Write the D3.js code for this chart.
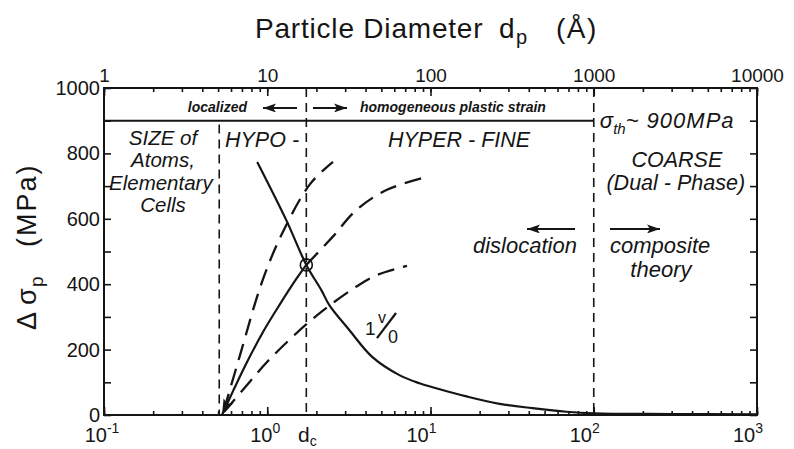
<!DOCTYPE html>
<html>
<head>
<meta charset="utf-8">
<script src="https://cdn.jsdelivr.net/npm/d3@7"></script>
<style>
body { margin: 0; background: #fff; }
text { font-family: "Liberation Sans", Arial, Helvetica, sans-serif; fill: #151515; }
.ann { font-style: italic; }
</style>
</head>
<body>
<div id="chart"></div>
<script>
// bottom axis: particle diameter in nm, top axis: same in Angstrom
var xTicks = [0.1, 1, 10, 100, 1000];
var xExps = ["-1", "0", "1", "2", "3"];
var topTicks = [1, 10, 100, 1000, 10000];
var yTicks = [0, 200, 400, 600, 800, 1000];

// critical diameter d_c and the region borders (nm)
var dCrit = 1.735;
var sCrit = 459;
var dAtoms = 0.508;
var dCoarse = 100;
var sigmaTh = 900;

// dislocation (Orowan type) curve, falling with size
var dFall = [0.868, 1.308, 1.735, 2.145, 2.40, 3.18, 4.41, 6.45, 8.57, 10.3, 16.6, 26.5, 42.2, 68, 100, 300, 1000];
var sFall = [774, 596, 459, 382, 336, 260, 177, 122, 97, 85, 57, 34, 21, 10, 5, 3, 2];

// rising curve (solid, ends with arrow at the atomic size)
var dRise = [0.528, 0.617, 0.752, 0.942, 1.197, 1.521, 1.735];
var sRise = [0, 73, 162, 254, 339, 419, 459];

// dashed curves
var dSteep = [0.543, 0.681, 0.929, 1.231, 1.828, 2.528];
var sSteep = [15, 183, 407, 554, 706, 774];
var dMid = [1.735, 2.505, 3.52, 5.37, 9.44];
var sMid = [459, 544, 627, 688, 728];
var dLow = [0.543, 0.752, 0.997, 1.379, 1.828, 2.424, 3.546, 4.702, 7.178];
var sLow = [9, 92, 162, 232, 287, 336, 394, 428, 456];

//---------------------------------------------------------------------------//

var svgWidth = 794;
var svgHeight = 449;
var margin = { top: 88, right: 37, bottom: 34, left: 104 };
var width = svgWidth - margin.left - margin.right;
var height = svgHeight - margin.top - margin.bottom;

var svg = d3.select("#chart")
    .append("svg")
    .attr("width", svgWidth)
    .attr("height", svgHeight);

var defs = svg.append("defs");
defs.append("marker")
    .attr("id", "head")
    .attr("markerUnits", "userSpaceOnUse")
    .attr("markerWidth", 14)
    .attr("markerHeight", 9)
    .attr("refX", 13)
    .attr("refY", 4.5)
    .attr("orient", "auto-start-reverse")
    .append("path")
    .attr("d", "M0,0 L13,4.5 L0,9 L3,4.5 Z")
    .attr("fill", "#151515");
defs.append("marker")
    .attr("id", "bighead")
    .attr("markerUnits", "userSpaceOnUse")
    .attr("markerWidth", 17)
    .attr("markerHeight", 11)
    .attr("refX", 16)
    .attr("refY", 5.5)
    .attr("orient", "auto-start-reverse")
    .append("path")
    .attr("d", "M0,0 L16,5.5 L0,11 L4,5.5 Z")
    .attr("fill", "#151515");

var chart = svg.append("g")
    .attr("transform", `translate(${margin.left}, ${margin.top})`);

var x = d3.scaleLog().domain([0.1, 1000]).range([0, width]);
var xTop = d3.scaleLog().domain([1, 10000]).range([0, width]);
var y = d3.scaleLinear().domain([0, 1000]).range([height, 0]);

// axes: all ticks point inward
chart.append("g")
    .attr("transform", `translate(0, ${height})`)
    .call(d3.axisBottom(x).tickValues(x.ticks()).tickSize(-4).tickFormat(""));
chart.append("g")
    .attr("transform", `translate(0, ${height})`)
    .call(d3.axisBottom(x).tickValues(xTicks).tickSize(-8).tickFormat(""));

chart.append("g")
    .call(d3.axisTop(xTop).tickValues(xTop.ticks()).tickSize(-4).tickFormat(""));
chart.append("g")
    .attr("class", "topAxis")
    .call(d3.axisTop(xTop).tickValues(topTicks).tickSize(-8).tickPadding(6).tickFormat(d3.format("d")));

var yMinor = d3.range(0, 1001, 100);
chart.append("g")
    .attr("class", "leftAxis")
    .call(d3.axisLeft(y).tickValues(yMinor).tickSize(-7).tickPadding(4)
        .tickFormat(d => yTicks.indexOf(d) >= 0 ? d : ""));
chart.append("g")
    .attr("transform", `translate(${width}, 0)`)
    .call(d3.axisRight(y).tickValues(yMinor).tickSize(-7).tickFormat(""));

chart.selectAll(".domain").remove();
chart.selectAll(".tick line").attr("stroke", "#151515").attr("stroke-width", 1.6);
chart.selectAll(".topAxis text").attr("font-size", 19).attr("fill", "#151515");
chart.selectAll(".leftAxis text").attr("font-size", 20).attr("fill", "#151515");

// bottom labels 10^n
var xLab = chart.append("g").selectAll("text")
    .data(xTicks)
    .enter()
    .append("text")
    .attr("x", (d, i) => x(d) - (i < 2 ? 2 : 9))
    .attr("y", height + 27)
    .attr("text-anchor", "middle")
    .attr("font-size", 20);
xLab.append("tspan").text("10");
xLab.append("tspan")
    .attr("dy", -9)
    .attr("font-size", 14)
    .text((d, i) => xExps[i]);

var dcLab = chart.append("text")
    .attr("x", x(dCrit) + 1)
    .attr("y", height + 27)
    .attr("text-anchor", "middle")
    .attr("font-size", 21);
dcLab.append("tspan").text("d");
dcLab.append("tspan").attr("dy", 4).attr("font-size", 14).text("c");

// frame and the 900 MPa line
chart.append("rect")
    .attr("width", width)
    .attr("height", height)
    .attr("fill", "none")
    .attr("stroke", "#151515")
    .attr("stroke-width", 2);

chart.append("line")
    .attr("x1", 0)
    .attr("x2", x(dCoarse))
    .attr("y1", y(sigmaTh))
    .attr("y2", y(sigmaTh))
    .attr("stroke", "#151515")
    .attr("stroke-width", 2);

// vertical dashed borders
var borders = [
    { d: dAtoms, top: 888 },
    { d: dCrit, top: 1000 },
    { d: dCoarse, top: 1000 }
];
chart.selectAll(".border")
    .data(borders)
    .enter()
    .append("line")
    .attr("class", "border")
    .attr("x1", b => x(b.d))
    .attr("x2", b => x(b.d))
    .attr("y1", b => y(b.top))
    .attr("y2", y(0))
    .attr("stroke", "#151515")
    .attr("stroke-width", 1.6)
    .attr("stroke-dasharray", "9,6");

// curves
var line = d3.line()
    .x(p => x(p[0]))
    .y(p => y(p[1]))
    .curve(d3.curveCatmullRom.alpha(0.5));

function pairs(ds, ss) {
    return ds.map((d, i) => [d, ss[i]]);
}

chart.append("path")
    .attr("d", line(pairs(dFall, sFall)))
    .attr("fill", "none")
    .attr("stroke", "#151515")
    .attr("stroke-width", 2.2);

chart.append("path")
    .attr("d", line(pairs(dRise, sRise)))
    .attr("fill", "none")
    .attr("stroke", "#151515")
    .attr("stroke-width", 2.2)
    .attr("marker-start", "url(#bighead)");

[[dSteep, sSteep], [dMid, sMid], [dLow, sLow]].forEach(function(c) {
    chart.append("path")
        .attr("d", line(pairs(c[0], c[1])))
        .attr("fill", "none")
        .attr("stroke", "#151515")
        .attr("stroke-width", 2.3)
        .attr("stroke-dasharray", "17,9");
});

chart.append("circle")
    .attr("cx", x(dCrit))
    .attr("cy", y(sCrit))
    .attr("r", 6)
    .attr("fill", "none")
    .attr("stroke", "#151515")
    .attr("stroke-width", 1.6);

// annotations (placed in data coordinates)
function note(dv, sv, txt, size, anchor) {
    return chart.append("text")
        .attr("class", "ann")
        .attr("x", x(dv))
        .attr("y", y(sv))
        .attr("font-size", size)
        .attr("text-anchor", anchor || "start")
        .text(txt);
}
function arrow(d1, d2, sv) {
    chart.append("line")
        .attr("x1", x(d1)).attr("x2", x(d2))
        .attr("y1", y(sv)).attr("y2", y(sv))
        .attr("stroke", "#151515")
        .attr("stroke-width", 2)
        .attr("marker-end", "url(#head)");
}

note(0.7516, 928, "localized", 14, "end").attr("font-weight", "bold");
arrow(1.521, 0.942, 939);
arrow(1.906, 3.08, 939);
note(3.70, 928, "homogeneous plastic strain", 14).attr("font-weight", "bold");

note(0.2298, 826, "SIZE of", 20.5, "middle");
note(0.2298, 758, "Atoms,", 20.5, "middle");
note(0.2230, 688, "Elementary", 20.5, "middle");
note(0.2298, 621, "Cells", 20.5, "middle");

note(0.551, 820, "HYPO -", 21.5);
note(5.49, 820, "HYPER - FINE", 21.5);

var th = note(109, 878, "", 22);
th.append("tspan").text("σ");
th.append("tspan").attr("dy", 6).attr("font-size", 15).text("th");
th.append("tspan").attr("dy", -6).attr("letter-spacing", 1).text("~ 900MPa");

note(323, 758, "COARSE", 21.5, "middle");
note(318, 688, "(Dual - Phase)", 21.5, "middle");

arrow(76.8, 39.0, 569);
arrow(125.8, 254.6, 569);
note(78.9, 495, "dislocation", 22, "end");
note(125.8, 495, "composite", 22);
note(258, 422, "theory", 22, "middle");

// 1 v/o label on the falling curve
chart.append("text").attr("x", x(3.97)).attr("y", y(245)).attr("font-size", 19).text("1");
chart.append("text").attr("x", x(4.77)).attr("y", y(281)).attr("font-size", 16).text("v");
chart.append("text").attr("x", x(5.49)).attr("y", y(220)).attr("font-size", 18).text("0");
chart.append("line")
    .attr("x1", x(4.70)).attr("y1", y(235))
    .attr("x2", x(6.15)).attr("y2", y(312))
    .attr("stroke", "#151515")
    .attr("stroke-width", 2.2);

// axis titles
var title = svg.append("text")
    .attr("y", 38)
    .attr("font-size", 28);
title.append("tspan").attr("x", 255).attr("letter-spacing", 0.8).text("Particle Diameter");
title.append("tspan").attr("x", 499).text("d");
title.append("tspan").attr("x", 516).attr("dy", 6).attr("font-size", 20).text("p");
title.append("tspan").attr("x", 556).attr("dy", -6).attr("letter-spacing", 1.5).text("(Å)");

var yTitle = svg.append("text")
    .attr("transform", "translate(36, 330) rotate(-90)")
    .attr("font-size", 27);
yTitle.append("tspan").attr("x", 0).text("Δ");
yTitle.append("tspan").attr("x", 25).text("σ");
yTitle.append("tspan").attr("x", 43).attr("dy", 7).attr("font-size", 19).text("p");
yTitle.append("tspan").attr("x", 83).attr("dy", -7).attr("letter-spacing", 2).text("(MPa)");
</script>
</body>
</html>
